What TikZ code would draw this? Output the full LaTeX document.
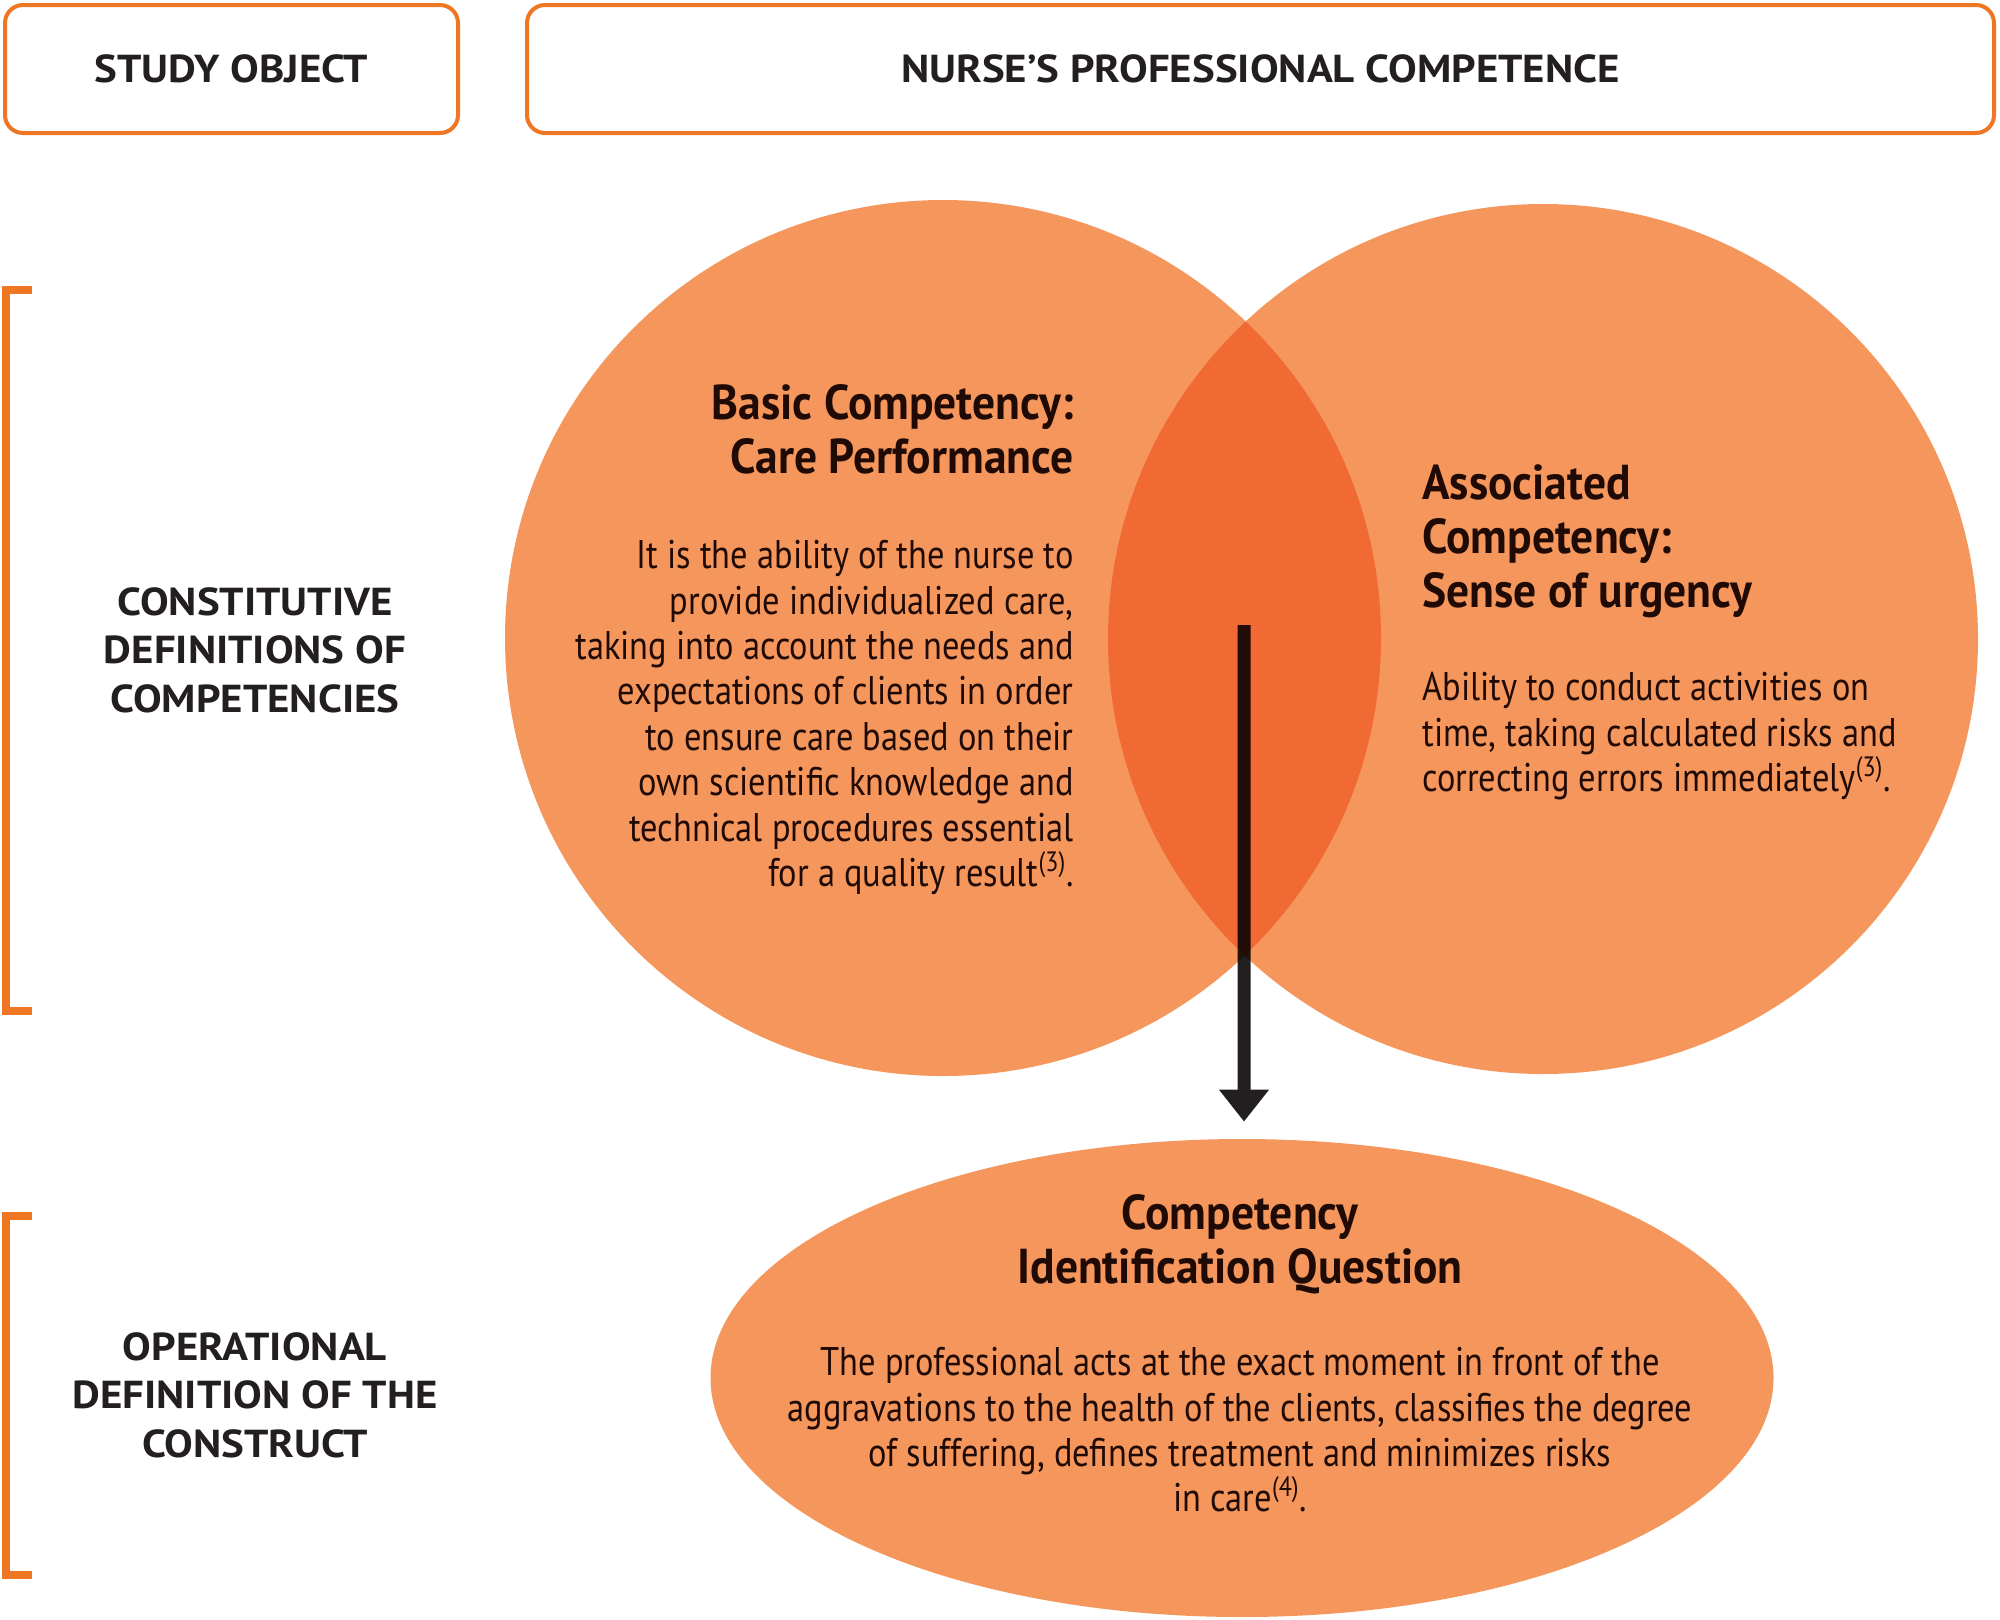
\documentclass[tikz,border=0pt]{standalone}
\usepackage{fontspec}
\setmainfont{PT Sans}
\newfontfamily\cond[FakeStretch=0.86]{PT Sans}
\newfontfamily\hcond[FakeStretch=0.93]{PT Sans}
\newfontfamily\wide[FakeStretch=1.1]{PT Sans}
\usetikzlibrary{arrows.meta,shapes.geometric}
\definecolor{circ}{RGB}{245,151,92}
\definecolor{lens}{RGB}{241,106,52}
\definecolor{edge}{RGB}{239,118,34}
\definecolor{ink}{RGB}{35,31,32}
\definecolor{dark}{RGB}{32,10,6}
\begin{document}
\begin{tikzpicture}[x=0.5pt,y=-0.5pt,
 hdr/.style={draw=edge,line width=2pt,rounded corners=9pt,minimum height=64pt,font=\wide\bfseries\fontsize{19.5}{22}\selectfont,text=ink},
 side/.style={font=\wide\bfseries\fontsize{19.5}{24.25}\selectfont,text=ink,align=center},
 brk/.style={draw=edge,line width=4pt},
 blob/.style={fill=circ,inner sep=0pt},
 head/.style={font=\hcond\bfseries\fontsize{24.5}{27}\selectfont,text=dark,inner sep=0pt},
 body/.style={font=\cond\fontsize{20}{22.7}\selectfont,text=dark,inner sep=0pt},
 arr/.style={draw=ink,line width=6.5pt,-{Triangle[width=24pt,length=16pt]}}
]
\useasboundingbox (0,0) rectangle (2000,1619);
\node[hdr,minimum width=226.5pt] (so) at (231.5,69) {STUDY OBJECT};
\node[hdr,minimum width=733.5pt] (npc) at (1260.5,69) {NURSE’S PROFESSIONAL COMPETENCE};
\draw[brk] (32,290) -- (6,290) -- (6,1011) -- (32,1011);
\draw[brk] (32,1216) -- (6,1216) -- (6,1575) -- (32,1575);
\node[side] (cd) at (255,650) {CONSTITUTIVE\\DEFINITIONS OF\\COMPETENCIES};
\node[side] (od) at (255,1395) {OPERATIONAL\\DEFINITION OF THE\\CONSTRUCT};
\node[circle,blob,minimum size=438pt] (bc) at (943,638) {};
\node[circle,blob,minimum size=435pt] (ac) at (1543,639) {};
\begin{scope}
\clip (bc.center) circle[radius=219pt];
\fill[lens] (ac.center) circle[radius=217.5pt];
\end{scope}
\node[ellipse,blob,minimum width=531.5pt,minimum height=239pt] (q) at (1242,1378) {};
\coordinate (a0) at (1244,625);
\begin{scope}[transparency group,blend mode=multiply]
\draw[arr,shorten >=8.5pt] (a0) -- (a0 |- q.north);
\end{scope}
\node[head,anchor=north east,align=right] (bt) at (1074,384) {Basic Competency:\\Care Performance};
\node[body,anchor=north east,align=right] (bb) at (1074,540) {It is the ability of the nurse to\\provide individualized care,\\taking into account the needs and\\expectations of clients in order\\to ensure care based on their\\own scientific knowledge and\\technical procedures essential\\for a quality result\textsuperscript{(3)}.};
\node[head,anchor=north west,align=left] (at) at (1422,464) {Associated\\Competency:\\Sense of urgency};
\node[body,anchor=north west,align=left] (ab) at (1422,672) {Ability to conduct activities on\\time, taking calculated risks and\\correcting errors immediately\textsuperscript{(3)}.};
\node[head,anchor=north,align=center] (qt) at (1240,1194) {Competency\\Identification Question};
\node[body,anchor=north,align=center] (qb) at (1240,1347) {The professional acts at the exact moment in front of the\\aggravations to the health of the clients, classifies the degree\\of suffering, defines treatment and minimizes risks\\in care\textsuperscript{(4)}.};
\end{tikzpicture}
\end{document}
